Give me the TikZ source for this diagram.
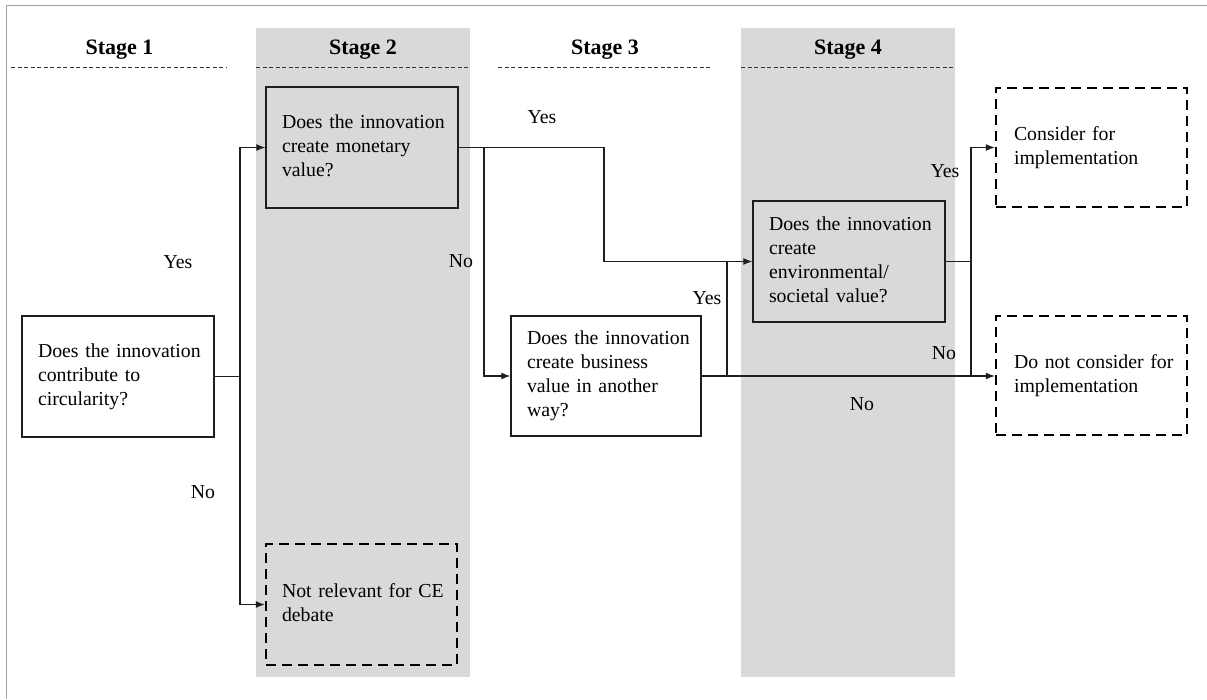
\documentclass[tikz,border=0pt]{standalone}
\usepackage{fontspec}
\setmainfont{Liberation Serif}
\usetikzlibrary{arrows.meta}
\definecolor{band}{HTML}{D9D9D9}
\definecolor{framegray}{HTML}{A3A3A3}
\definecolor{ink}{HTML}{1E1E1E}
% lines of a box text, kept unbroken and flush left
\newcommand{\qlines}[1]{\begin{tabular}{@{}l@{}}#1\end{tabular}}
\begin{document}
\begin{tikzpicture}[x=1pt,y=-1pt,
  qbox/.style={draw=ink, line width=1.4pt, rectangle, minimum height=121pt,
    text width=160pt, inner xsep=16pt, inner ysep=0pt, align=left,
    font=\fontsize{19.8}{24}\selectfont},
  endbox/.style={qbox, draw=black, line width=2.4pt, dash pattern=on 10pt off 6pt},
  conn/.style={draw=ink, line width=1.2pt},
  arr/.style={conn, -{Latex[length=9pt,width=7pt]}},
  stagehdr/.style={font=\fontsize{22}{26}\selectfont\bfseries, inner sep=0pt, anchor=base},
  hdrline/.style={draw=black!80, line width=1pt, dash pattern=on 4pt off 2.5pt},
  lbl/.style={font=\fontsize{19.8}{24}\selectfont, inner sep=0pt, anchor=base}]

\useasboundingbox (0,0) rectangle (1207,699);
\fill[white] (0,0) rectangle (1207,699);

% shaded columns for stages 2 and 4
\fill[band] (256,28) rectangle (470,677);
\fill[band] (741,28) rectangle (955,677);

% outer frame
\draw[framegray, line width=1.6pt] (6.5,699) -- (6.5,5.5) -- (1207,5.5);

% stage headers
\node[stagehdr] (h1) at (119.5,54) {Stage 1};
\node[stagehdr] (h2) at (363,54) {Stage 2};
\node[stagehdr] (h3) at (605,54) {Stage 3};
\node[stagehdr] (h4) at (848,54) {Stage 4};
\draw[hdrline] (11,67) -- (227,67);
\draw[hdrline] (256,67) -- (470,67);
\draw[hdrline] (498,67) -- (712,67);
\draw[hdrline] (741,67) -- (955,67);

% decision boxes
\node[qbox, fill=white] (circ) at (118,376.5) {\qlines{Does the innovation\\contribute to\\circularity?}};
\node[qbox, fill=band] (money) at (362,147.5) {\qlines{Does the innovation\\create monetary\\value?}};
\node[qbox, fill=white, minimum height=120pt, text width=158pt] (biz) at (606,376) {\qlines{Does the innovation\\create business\\value in another\\way?}};
\node[qbox, fill=band] (env) at (849,261.5) {\qlines{Does the innovation\\create\\environmental/\\societal value?}};

% outcome boxes
\node[endbox, text width=159pt] (nrel) at (361.5,604.5) {\qlines{Not relevant for CE\\debate}};
\node[endbox, fill=white, minimum height=119pt, text width=155pt, inner xsep=18pt] (cons) at (1091.5,147.5) {\qlines{Consider for\\implementation}};
\node[endbox, fill=white, minimum height=119pt, text width=155pt, inner xsep=18pt] (dnc) at (1091.5,375.5) {\qlines{Do not consider for\\implementation}};

% junction points
\coordinate (j1) at (240,376.5);
\coordinate (j2) at (484,147.5);
\coordinate (j3) at (604,261.5);
\coordinate (j4) at (727,376);
\coordinate (j5) at (971,261.5);

% stage 1 branches
\draw[conn] (circ.east) -- (j1);
\draw[arr] (j1) |- (money.west);
\draw[arr] (j1) |- (nrel.west);

% stage 2 branches
\draw[arr] (money.east) -| (j3) -- (env.west);
\draw[arr] (j2) |- (biz.west);

% stage 3 branches
\draw[arr] (biz.east) -- (biz.east -| dnc.west);
\draw[conn] (j4) -- (j4 |- env.west);

% stage 4 branches
\draw[conn] (env.east) -- (j5);
\draw[arr] (j5) |- (cons.west);
\draw[conn] (j5) -- (j5 |- dnc.west);

% branch labels
\node[lbl] (l1) at (178,268) {Yes};
\node[lbl] (l2) at (203,498) {No};
\node[lbl] (l3) at (542,123.5) {Yes};
\node[lbl] (l4) at (461,267.5) {No};
\node[lbl] (l5) at (707,304) {Yes};
\node[lbl] (l6) at (945,177.5) {Yes};
\node[lbl] (l7) at (944,359) {No};
\node[lbl] (l8) at (862,410) {No};
\end{tikzpicture}
\end{document}
